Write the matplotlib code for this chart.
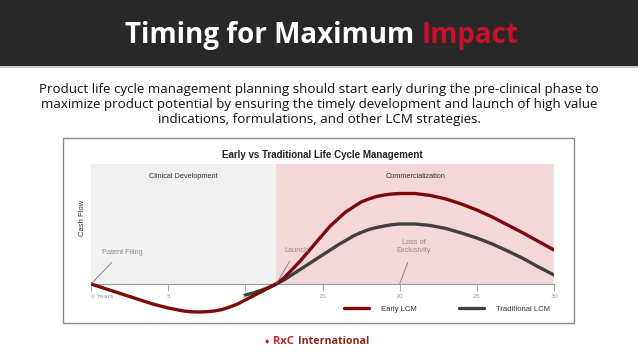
import matplotlib.pyplot as plt
from matplotlib.patches import Rectangle

# Cash flow curves (arbitrary units)
years_early = [0, 1, 2, 3, 4, 5, 6, 6.5, 7, 7.5, 8, 8.5, 9, 9.5, 10, 10.5, 11, 11.5, 12,
               12.5, 13, 13.5, 14, 14.5, 15, 15.5, 16, 16.5, 17, 17.5, 18, 18.5, 19, 19.5,
               20, 21, 22, 23, 24, 25, 26, 27, 28, 29, 30]
early_lcm = [0, -5, -10, -15, -20, -24, -27, -27.8, -28, -27.7, -27, -25.5, -23, -20, -16,
             -12, -8, -4, 0, 6, 14, 22, 31, 40, 49, 58, 65, 72, 77, 82, 85, 87.5, 89, 90,
             90.5, 90.5, 88.5, 85, 80, 74, 67, 59, 51, 42.5, 34]
years_trad = [10, 10.5, 11, 11.5, 12, 12.5, 13, 14, 15, 16, 16.5, 17, 17.5, 18, 18.5, 19,
              19.5, 20, 21, 22, 23, 24, 25, 26, 27, 28, 29, 30]
traditional_lcm = [-11, -9, -6.5, -3.5, 0, 4, 9, 19, 29, 39, 43.5, 48, 51.5, 54.5, 56.5, 58,
                   59.3, 60, 60, 58.5, 55.5, 51, 46, 40, 33, 25.5, 17, 9]

phases = ['Clinical Development', 'Commercialization']
phase_start = [0, 12]
phase_end = [12, 30]
phase_colors = ['#f1f1f1', '#f3d7d9']

tick_pos = [0, 5, 10, 15, 20, 25, 30]
tick_labels = ['0 Years', '5', '10', '15', '20', '25', '30']

events = ['Patent Filing', 'Launch', 'Loss of\nExclusivity']
event_year = [0, 12, 20]

W, H = 638, 359
fig = plt.figure(figsize=(W / 100, H / 100), dpi=100)
fig.patch.set_facecolor('white')

def fx(px):
    return px / W

def fy(py):
    return 1 - py / H

# header band
fig.patches.append(Rectangle((0, fy(66)), 1, 66 / H, transform=fig.transFigure,
                             fc='#282828', ec='none', zorder=0))
fig.patches.append(Rectangle((0, fy(68)), 1, 2 / H, transform=fig.transFigure,
                             fc='#c8c8c8', ec='none', zorder=0))
t1 = fig.text(fx(125), fy(35.5), 'Timing for Maximum ', color='white', fontsize=20,
              fontweight='bold', family='Open Sans', va='center', ha='left')
fig.canvas.draw()
bb = t1.get_window_extent()
fig.text(bb.x1 / W, fy(35.5), 'Impact', color='#c8102e', fontsize=20,
         fontweight='bold', family='Open Sans', va='center', ha='left')

para = ('Product life cycle management planning should start early during the pre-clinical phase to\n'
        'maximize product potential by ensuring the timely development and launch of high value\n'
        'indications, formulations, and other LCM strategies.')
fig.text(0.5, fy(104), para, ha='center', va='center', fontsize=9.6, family='Open Sans',
         color='#111111', linespacing=1.2)

# chart frame
fig.patches.append(Rectangle((fx(63), fy(323)), (574 - 63) / W, (323 - 138) / H,
                             transform=fig.transFigure, fc='none', ec='#8a8a8a', lw=1, zorder=0))
fig.text(fx(322), fy(155), 'Early vs Traditional Life Cycle Management', ha='center', va='center',
         fontsize=7, fontweight='bold', family='Liberation Sans', color='#222222')
fig.text(fx(82), fy(218), 'Cash Flow', rotation=90, ha='center', va='center',
         fontsize=5.5, family='Liberation Sans', color='#333333')

ax = fig.add_axes([fx(91), fy(320), (554 - 91) / W, (320 - 164) / H])
ax.set_facecolor('none')
ax.set_xlim(0, 30)
ax.set_ylim(-36, 120)

for name, s, e, c in zip(phases, phase_start, phase_end, phase_colors):
    ax.fill_between([s, e], 0, 120, color=c, lw=0, zorder=0)
    ax.text((s + e) / 2, 107, name, ha='center', va='center', fontsize=5.3,
            family='Liberation Sans', color='#333333')

ax.plot(years_early, early_lcm, color='#7d0a0a', lw=2.4, label='Early LCM', zorder=4,
        solid_capstyle='round', solid_joinstyle='round')
ax.plot(years_trad, traditional_lcm, color='#404040', lw=2.4, label='Traditional LCM', zorder=3,
        solid_capstyle='round', solid_joinstyle='round')

text_pos = [(2.0, 32), (13.3, 34), (20.9, 37)]
for name, yr, (tx, ty) in zip(events, event_year, text_pos):
    ax.annotate(name, xy=(yr, 0), xytext=(tx, ty), ha='center', va='center',
                fontsize=5.3, family='Liberation Sans', color='#8c8c8c',
                arrowprops=dict(arrowstyle='-', color='#777777', lw=0.6,
                                shrinkA=4, shrinkB=0), zorder=5)

for side in ['top', 'right', 'left']:
    ax.spines[side].set_visible(False)
ax.spines['bottom'].set_position(('data', 0))
ax.spines['bottom'].set_color('#9a9a9a')
ax.spines['bottom'].set_linewidth(0.8)
ax.set_yticks([])
ax.set_xticks(tick_pos)
ax.set_xticklabels(tick_labels)
ax.tick_params(axis='x', direction='out', length=5, width=0.6, color='#9a9a9a',
               labelsize=4.5, labelcolor='#999999', pad=2)
lab0 = ax.get_xticklabels()[0]
lab0.set_ha('left')
lab0.set_x(-0.1)

leg = ax.legend(loc='center', bbox_to_anchor=(0.769, 0.07), ncol=2, frameon=False,
                handlelength=3.3, handletextpad=1.6, columnspacing=5.5,
                prop={'family': 'Liberation Sans', 'size': 5.5})
for t in leg.get_texts():
    t.set_color('#333333')

# footer logo
fig.text(fx(273), fy(342), 'RxC', color='#c0272d', fontsize=8, fontweight='bold',
         family='Open Sans', va='center', ha='left')
fig.text(fx(298), fy(342), 'International', color='#8b2515', fontsize=7.7, fontweight='bold',
         family='Open Sans', va='center', ha='left')
fig.text(fx(267), fy(342), '\u2666', color='#c0272d', fontsize=5, va='center', ha='center')

fig.savefig('out.png', dpi=100)
